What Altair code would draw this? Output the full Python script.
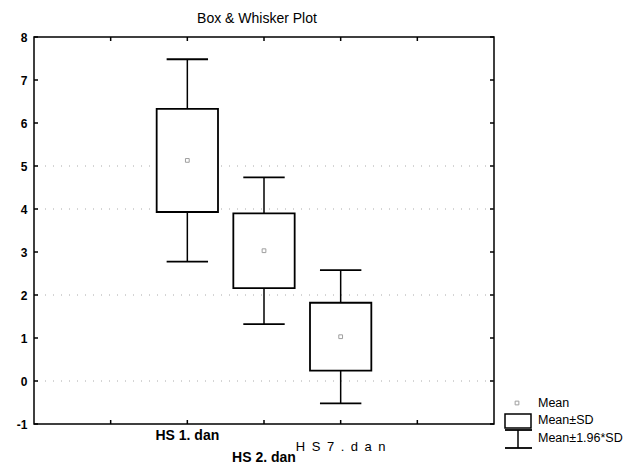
import altair as alt
import pandas as pd

# ---- data ----
categories = ["HS 1. dan", "HS 2. dan", "HS 7. dan"]
positions = [2, 3, 4]          # x position of each group on the 0..6 axis
means = [5.13, 3.03, 1.03]
sds = [1.20, 0.87, 0.79]
y_ticks = [-1, 0, 1, 2, 3, 4, 5, 6, 7, 8]
x_ticks = [1, 2, 3, 4, 5]
grid_vals = [0, 2, 4, 5]
legend_labels = ["Mean", "Mean\u00b1SD", "Mean\u00b11.96*SD"]

df = pd.DataFrame({"cat": categories, "pos": positions, "mean": means, "sd": sds})
df["sd_lo"] = df["mean"] - df["sd"]
df["sd_hi"] = df["mean"] + df["sd"]
df["ci_lo"] = df["mean"] - 1.96 * df["sd"]
df["ci_hi"] = df["mean"] + 1.96 * df["sd"]
df["box_l"] = df["pos"] - 0.4
df["box_r"] = df["pos"] + 0.4
df["cap_l"] = df["pos"] - 0.27
df["cap_r"] = df["pos"] + 0.27

W, H = 460, 387
FONT = "Liberation Sans"

xs = alt.Scale(domain=[0, 6], nice=False, zero=False)
ys = alt.Scale(domain=[-1, 8], nice=False, zero=False)


def QX(f):
    return alt.X(f, type="quantitative", scale=xs, axis=None)


def QY(f):
    return alt.Y(f, type="quantitative", scale=ys, axis=None)


def PX(f):
    return alt.X(f, type="quantitative", scale=None, axis=None)


def PY(f):
    return alt.Y(f, type="quantitative", scale=None, axis=None)


Yaxis = alt.Axis(values=y_ticks, ticks=False, domain=False, grid=False,
                 labelFont=FONT, labelFontSize=12, labelFontWeight="bold",
                 labelColor="black", labelPadding=7, title=None,
                 labelExpr="toString(datum.value)")

base = alt.Chart(df)

grid = alt.Chart(pd.DataFrame({"v": grid_vals})).mark_rule(
    color="#aaaaaa", strokeDash=[1, 7], strokeWidth=1
).encode(y=alt.Y("v:Q", scale=ys, axis=Yaxis))

yt = pd.DataFrame({"v": y_ticks})
left_ticks = alt.Chart(yt).mark_rule(color="black", strokeWidth=1.5).encode(
    y=QY("v"), x=alt.value(0), x2=alt.value(4))
right_ticks = alt.Chart(yt).mark_rule(color="black", strokeWidth=1.5).encode(
    y=QY("v"), x=alt.value(W), x2=alt.value(W - 4))
xt = pd.DataFrame({"v": x_ticks})
top_ticks = alt.Chart(xt).mark_rule(color="black", strokeWidth=1.5).encode(
    x=QX("v"), y=alt.value(0), y2=alt.value(4))
bottom_ticks = alt.Chart(xt).mark_rule(color="black", strokeWidth=1.5).encode(
    x=QX("v"), y=alt.value(H), y2=alt.value(H - 4))

whisk_up = base.mark_rule(color="black", strokeWidth=1.5).encode(
    x=QX("pos"), y=QY("sd_hi"), y2="ci_hi:Q")
whisk_dn = base.mark_rule(color="black", strokeWidth=1.5).encode(
    x=QX("pos"), y=QY("ci_lo"), y2="sd_lo:Q")
cap_up = base.mark_rule(color="black", strokeWidth=1.8).encode(
    x=QX("cap_l"), x2="cap_r:Q", y=QY("ci_hi"))
cap_dn = base.mark_rule(color="black", strokeWidth=1.8).encode(
    x=QX("cap_l"), x2="cap_r:Q", y=QY("ci_lo"))
boxes = base.mark_rect(fill="white", stroke="black", strokeWidth=1.8).encode(
    x=QX("box_l"), x2="box_r:Q", y=QY("sd_lo"), y2="sd_hi:Q")
mean_pts = base.mark_point(shape="square", size=14, color="#777777",
                           strokeWidth=1, filled=False).encode(
    x=QX("pos"), y=QY("mean"))

# category labels (staggered as in the reference)
label_specs = [
    ("HS 1. dan", "HS 1. dan", "bold", 14, H + 12),
    ("HS 7. dan", "H\u2002S\u20027\u2002.\u2002d\u2002a\u2002n", "normal", 13, H + 23),
    ("HS 2. dan", "HS 2. dan", "bold", 14, H + 34),
]
labels = []
for cat, txt, wt, fs, ypx in label_specs:
    labels.append(
        alt.Chart(df[df["cat"] == cat]).mark_text(
            text=txt, font=FONT, fontSize=fs, fontWeight=wt, color="black",
            baseline="middle", align="center"
        ).encode(x=QX("pos"), y=alt.value(ypx))
    )

# custom legend (pixel layout, unscaled)
legd = pd.DataFrame({
    "lab": legend_labels,
    "tx": [504] * 3,
    "ty": [366, 383, 401],
})
geo = pd.DataFrame({"k": ["g"], "cx": [483], "cy": [366],
                    "bx1": [471], "bx2": [497], "by1": [377], "by2": [391],
                    "wx": [484], "wy1": [393], "wy2": [411],
                    "cx1": [471], "cx2": [498]})
g = alt.Chart(geo)
leg_mean = g.mark_point(shape="square", size=14, color="#777777",
                        filled=False, strokeWidth=1).encode(x=PX("cx"), y=PY("cy"))
leg_box = g.mark_rect(fill="white", stroke="black", strokeWidth=1.5).encode(
    x=PX("bx1"), x2="bx2:Q", y=PY("by1"), y2="by2:Q")
leg_wv = g.mark_rule(color="black", strokeWidth=1.5).encode(
    x=PX("wx"), y=PY("wy1"), y2="wy2:Q")
leg_wt = g.mark_rule(color="black", strokeWidth=1.8).encode(
    x=PX("cx1"), x2="cx2:Q", y=PY("wy1"))
leg_wb = g.mark_rule(color="black", strokeWidth=1.8).encode(
    x=PX("cx1"), x2="cx2:Q", y=PY("wy2"))
leg_text = alt.Chart(legd).mark_text(
    font=FONT, fontSize=12.5, color="black", align="left", baseline="middle"
).encode(x=PX("tx"), y=PY("ty"), text="lab:N")

chart = alt.layer(
    grid, left_ticks, right_ticks, top_ticks, bottom_ticks,
    whisk_up, whisk_dn, cap_up, cap_dn, boxes, mean_pts,
    *labels, leg_mean, leg_box, leg_wv, leg_wt, leg_wb, leg_text
).resolve_scale(x="independent", y="independent").properties(
    width=W, height=H,
    title=alt.TitleParams("Box & Whisker Plot", font=FONT, fontSize=14,
                          fontWeight="normal", anchor="middle", dx=-7,
                          offset=5, color="black"),
    autosize=alt.AutoSizeParams(type="none"),
    padding={"left": 26, "top": 29, "right": 130, "bottom": 42},
).configure_view(stroke="black", strokeWidth=1.5)

chart.save("out.html", embed_options={"renderer": "svg", "actions": False})
